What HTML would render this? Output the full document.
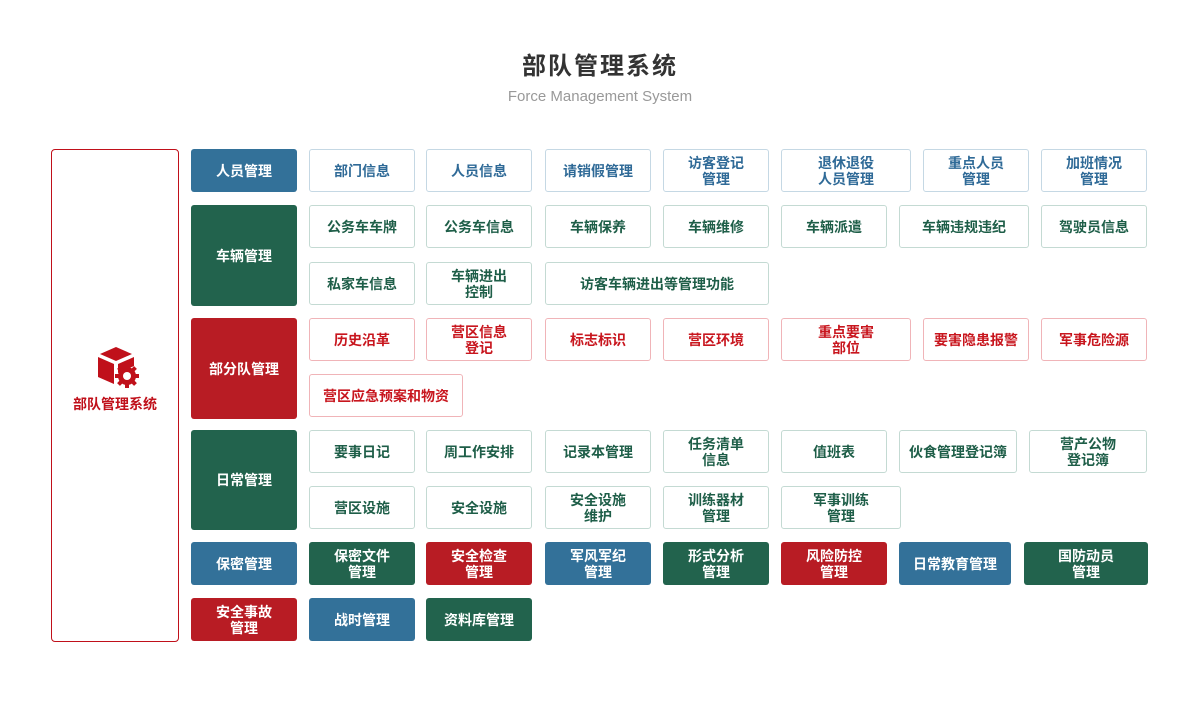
<!DOCTYPE html>
<html><head><meta charset="utf-8">
<style>
*{margin:0;padding:0;box-sizing:border-box}
body{width:1200px;height:727px;background:#fff;position:relative;overflow:hidden;font-family:"Liberation Sans","Noto Sans CJK SC",sans-serif}
.t{position:absolute;top:50px;left:0;width:1200px;text-align:center;font-size:24px;font-weight:bold;color:#333;letter-spacing:2px;line-height:34px}
.s{position:absolute;top:87px;left:0;width:1200px;text-align:center;font-size:15px;color:#999;line-height:20px}
.b{position:absolute;display:flex;align-items:center;justify-content:center;text-align:center;font-size:14px;font-weight:bold;line-height:16px;border-radius:3px;height:43px}
.B{background:#337199;color:#fff}.G{background:#22634d;color:#fff}.R{background:#b81c24;color:#fff}
.bo{background:#fff;color:#2f6a97;border:1px solid #c5d8e4}
.go{background:#fff;color:#1e5e48;border:1px solid #c4dad3}
.ro{background:#fff;color:#c8161e;border:1px solid #f0b4b8}
.main{position:absolute;left:51px;top:149px;width:128px;height:493px;border:1px solid #c0101a;border-radius:4px}
</style></head><body>
<div class="t">部队管理系统</div>
<div class="s">Force Management System</div>
<div class="main">
<svg style="position:absolute;left:44px;top:196px" width="44" height="42" viewBox="0 0 44 42">
<path d="M4 8 L20 1 L36 8 L20 15 Z" fill="#c0101a"/>
<path d="M2 11 L18 18 L18 38 L2 31 Z" fill="#c0101a"/>
<path d="M22 18 L38 11 L38 20 L22 27 Z" fill="#c0101a"/>
<circle cx="31" cy="30" r="9" fill="#c0101a"/>
<g fill="#c0101a"><rect x="29" y="18" width="4" height="24"/><rect x="19" y="28" width="24" height="4"/><rect x="29" y="18" width="4" height="24" transform="rotate(45 31 30)"/><rect x="29" y="18" width="4" height="24" transform="rotate(-45 31 30)"/></g>
<circle cx="31" cy="30" r="4" fill="#fff"/>
</svg>
<div style="position:absolute;left:0;top:244px;width:126px;text-align:center;font-size:14px;font-weight:bold;color:#c0101a">部队管理系统</div>
</div>

<div class="b B" style="left:191px;top:149px;width:106px">人员管理</div>
<div class="b bo" style="left:309px;top:149px;width:106px">部门信息</div>
<div class="b bo" style="left:426px;top:149px;width:106px">人员信息</div>
<div class="b bo" style="left:545px;top:149px;width:106px">请销假管理</div>
<div class="b bo" style="left:663px;top:149px;width:106px">访客登记<br>管理</div>
<div class="b bo" style="left:781px;top:149px;width:130px">退休退役<br>人员管理</div>
<div class="b bo" style="left:923px;top:149px;width:106px">重点人员<br>管理</div>
<div class="b bo" style="left:1041px;top:149px;width:106px">加班情况<br>管理</div>

<div class="b G" style="left:191px;top:205px;width:106px;height:101px">车辆管理</div>
<div class="b go" style="left:309px;top:205px;width:106px">公务车车牌</div>
<div class="b go" style="left:426px;top:205px;width:106px">公务车信息</div>
<div class="b go" style="left:545px;top:205px;width:106px">车辆保养</div>
<div class="b go" style="left:663px;top:205px;width:106px">车辆维修</div>
<div class="b go" style="left:781px;top:205px;width:106px">车辆派遣</div>
<div class="b go" style="left:899px;top:205px;width:130px">车辆违规违纪</div>
<div class="b go" style="left:1041px;top:205px;width:106px">驾驶员信息</div>
<div class="b go" style="left:309px;top:262px;width:106px">私家车信息</div>
<div class="b go" style="left:426px;top:262px;width:106px">车辆进出<br>控制</div>
<div class="b go" style="left:545px;top:262px;width:224px">访客车辆进出等管理功能</div>

<div class="b R" style="left:191px;top:318px;width:106px;height:101px">部分队管理</div>
<div class="b ro" style="left:309px;top:318px;width:106px">历史沿革</div>
<div class="b ro" style="left:426px;top:318px;width:106px">营区信息<br>登记</div>
<div class="b ro" style="left:545px;top:318px;width:106px">标志标识</div>
<div class="b ro" style="left:663px;top:318px;width:106px">营区环境</div>
<div class="b ro" style="left:781px;top:318px;width:130px">重点要害<br>部位</div>
<div class="b ro" style="left:923px;top:318px;width:106px">要害隐患报警</div>
<div class="b ro" style="left:1041px;top:318px;width:106px">军事危险源</div>
<div class="b ro" style="left:309px;top:374px;width:154px">营区应急预案和物资</div>

<div class="b G" style="left:191px;top:430px;width:106px;height:100px">日常管理</div>
<div class="b go" style="left:309px;top:430px;width:106px">要事日记</div>
<div class="b go" style="left:426px;top:430px;width:106px">周工作安排</div>
<div class="b go" style="left:545px;top:430px;width:106px">记录本管理</div>
<div class="b go" style="left:663px;top:430px;width:106px">任务清单<br>信息</div>
<div class="b go" style="left:781px;top:430px;width:106px">值班表</div>
<div class="b go" style="left:899px;top:430px;width:118px">伙食管理登记簿</div>
<div class="b go" style="left:1029px;top:430px;width:118px">营产公物<br>登记簿</div>
<div class="b go" style="left:309px;top:486px;width:106px">营区设施</div>
<div class="b go" style="left:426px;top:486px;width:106px">安全设施</div>
<div class="b go" style="left:545px;top:486px;width:106px">安全设施<br>维护</div>
<div class="b go" style="left:663px;top:486px;width:106px">训练器材<br>管理</div>
<div class="b go" style="left:781px;top:486px;width:120px">军事训练<br>管理</div>

<div class="b B" style="left:191px;top:542px;width:106px">保密管理</div>
<div class="b G" style="left:309px;top:542px;width:106px">保密文件<br>管理</div>
<div class="b R" style="left:426px;top:542px;width:106px">安全检查<br>管理</div>
<div class="b B" style="left:545px;top:542px;width:106px">军风军纪<br>管理</div>
<div class="b G" style="left:663px;top:542px;width:106px">形式分析<br>管理</div>
<div class="b R" style="left:781px;top:542px;width:106px">风险防控<br>管理</div>
<div class="b B" style="left:899px;top:542px;width:112px">日常教育管理</div>
<div class="b G" style="left:1024px;top:542px;width:124px">国防动员<br>管理</div>

<div class="b R" style="left:191px;top:598px;width:106px">安全事故<br>管理</div>
<div class="b B" style="left:309px;top:598px;width:106px">战时管理</div>
<div class="b G" style="left:426px;top:598px;width:106px">资料库管理</div>
</body></html>
